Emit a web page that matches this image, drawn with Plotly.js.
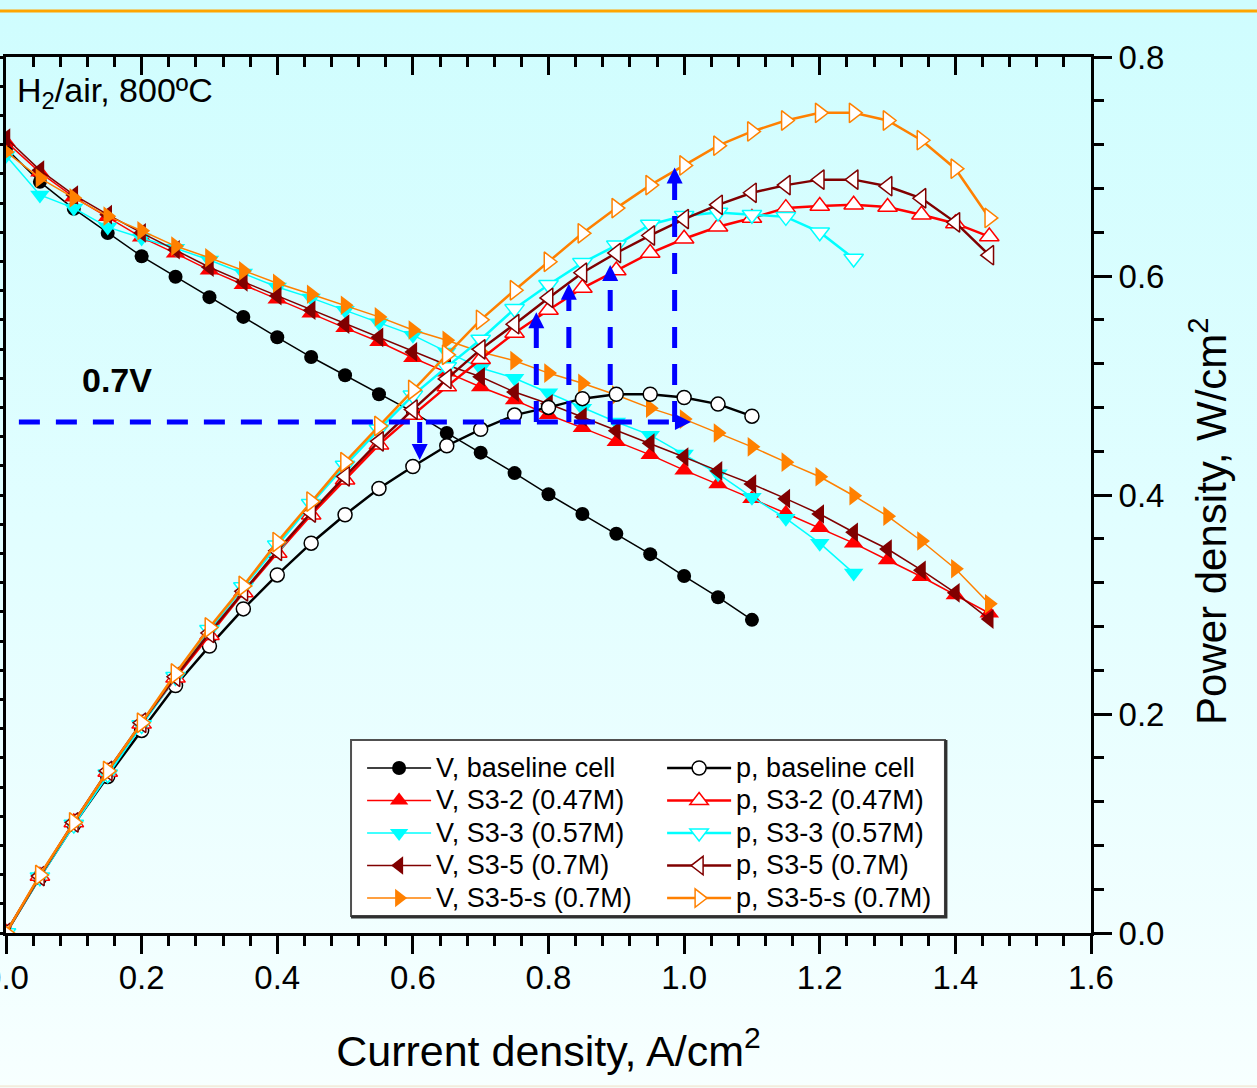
<!DOCTYPE html>
<html>
<head>
<meta charset="utf-8">
<script src="https://cdn.plot.ly/plotly-3.0.1.min.js"></script>
<style>
html,body{margin:0;padding:0;}
body{width:1257px;height:1088px;overflow:hidden;background:linear-gradient(to bottom,#cffdfe 0%,#e2feff 50%,#f7ffff 100%);}
#chart{width:1257px;height:1088px;}
</style>
</head>
<body>
<div id="chart"></div>
<script>
// ---- data (current density A/cm2, voltage V, power density W/cm2) ----
const I_base = [0,0.05,0.1,0.15,0.2,0.25,0.3,0.35,0.4,0.45,0.5,0.55,0.6,0.65,0.7,0.75,0.8,0.85,0.9,0.95,1.0,1.05,1.1];
const V_base = [1.075,1.029,0.992,0.959,0.927,0.899,0.871,0.844,0.816,0.789,0.764,0.738,0.714,0.685,0.658,0.630,0.601,0.574,0.547,0.519,0.489,0.460,0.429];
const P_base = [0,0.051,0.099,0.143,0.185,0.226,0.262,0.296,0.327,0.356,0.382,0.406,0.426,0.445,0.460,0.473,0.480,0.488,0.492,0.492,0.489,0.483,0.472];

const I_s32 = [0,0.05,0.1,0.15,0.2,0.25,0.3,0.35,0.4,0.45,0.5,0.55,0.6,0.65,0.7,0.75,0.8,0.85,0.9,0.95,1.0,1.05,1.1,1.15,1.2,1.25,1.3,1.35,1.4,1.45];
const V_s32 = [1.084,1.042,1.008,0.981,0.953,0.931,0.908,0.888,0.868,0.849,0.829,0.810,0.788,0.768,0.748,0.730,0.710,0.692,0.673,0.655,0.634,0.615,0.595,0.575,0.555,0.534,0.511,0.488,0.463,0.438];
const P_s32 = [0,0.052,0.101,0.147,0.191,0.233,0.272,0.311,0.347,0.382,0.414,0.446,0.473,0.499,0.524,0.548,0.569,0.589,0.605,0.621,0.634,0.645,0.653,0.662,0.664,0.665,0.663,0.656,0.648,0.636];

const I_s33 = [0,0.05,0.1,0.15,0.2,0.25,0.3,0.35,0.4,0.45,0.5,0.55,0.6,0.65,0.7,0.75,0.8,0.85,0.9,0.95,1.0,1.05,1.1,1.15,1.2,1.25];
const V_s33 = [1.065,1.011,0.993,0.967,0.952,0.938,0.922,0.904,0.885,0.870,0.853,0.836,0.819,0.796,0.774,0.760,0.740,0.719,0.700,0.682,0.656,0.629,0.597,0.568,0.534,0.493];
const P_s33 = [0,0.051,0.099,0.145,0.190,0.234,0.277,0.316,0.354,0.392,0.427,0.460,0.491,0.517,0.542,0.570,0.592,0.612,0.628,0.647,0.655,0.658,0.656,0.654,0.640,0.616];

const I_s35 = [0,0.05,0.1,0.15,0.2,0.25,0.3,0.35,0.4,0.45,0.5,0.55,0.6,0.65,0.7,0.75,0.8,0.85,0.9,0.95,1.0,1.05,1.1,1.15,1.2,1.25,1.3,1.35,1.4,1.45];
const V_s35 = [1.089,1.045,1.011,0.984,0.959,0.936,0.912,0.892,0.873,0.853,0.834,0.816,0.796,0.778,0.762,0.741,0.725,0.707,0.688,0.671,0.652,0.633,0.615,0.595,0.574,0.549,0.526,0.497,0.466,0.430];
const P_s35 = [0,0.052,0.101,0.148,0.192,0.234,0.274,0.312,0.349,0.384,0.417,0.449,0.478,0.506,0.533,0.556,0.580,0.603,0.621,0.637,0.652,0.665,0.676,0.683,0.688,0.688,0.682,0.671,0.649,0.619];

const I_s35s = [0,0.05,0.1,0.15,0.2,0.25,0.3,0.35,0.4,0.45,0.5,0.55,0.6,0.65,0.7,0.75,0.8,0.85,0.9,0.95,1.0,1.05,1.1,1.15,1.2,1.25,1.3,1.35,1.4,1.45];
const V_s35s = [1.070,1.034,1.007,0.982,0.962,0.941,0.925,0.907,0.890,0.875,0.860,0.844,0.826,0.812,0.796,0.784,0.767,0.753,0.737,0.719,0.704,0.685,0.666,0.645,0.625,0.599,0.571,0.537,0.499,0.451];
const P_s35s = [0,0.053,0.101,0.148,0.192,0.237,0.279,0.317,0.357,0.394,0.430,0.463,0.496,0.528,0.560,0.587,0.613,0.639,0.662,0.683,0.701,0.719,0.732,0.742,0.749,0.749,0.742,0.724,0.698,0.653];

// series labels
const vNames = ['V, baseline cell','V, S3-2 (0.47M)','V, S3-3 (0.57M)','V, S3-5 (0.7M)','V, S3-5-s (0.7M)'];
const pNames = ['p, baseline cell','p, S3-2 (0.47M)','p, S3-3 (0.57M)','p, S3-5 (0.7M)','p, S3-5-s (0.7M)'];

// 0.7 V guide arrows
const refV = 0.7;
const hLineStartI = 0.019;
const hArrowTipI = 1.01;
const downArrowI = 0.610;
const downArrowTipP = 0.432;
const upArrowI = [0.782, 0.830, 0.891, 0.986];
const upArrowTipP = [0.567, 0.593, 0.610, 0.699];

const xTickVals = [0,0.2,0.4,0.6,0.8,1.0,1.2,1.4,1.6];

// ---- styling helpers ----
const FONT = 'Liberation Sans, Arial, Helvetica, sans-serif';
const BLUE = '#0000ff';
const vRange = [0, 1.2], pRange = [0, 0.8];
const refP = refV * pRange[1] / vRange[1];
const legName = s => '<span style="font-size:27px">' + s + '</span>';

function vTrace(name, x, y, sym, color, ms) {
  return {x, y, name: legName(name), type: 'scatter', mode: 'lines+markers', yaxis: 'y', legend: 'legend',
    line: {color, width: 1.5}, marker: {symbol: sym, size: ms, color, line: {width: 0}}};
}
function pTrace(name, x, y, sym, color, ms) {
  return {x, y, name: legName(name), type: 'scatter', mode: 'lines+markers', yaxis: 'y2', legend: 'legend2',
    line: {color, width: 2.5}, marker: {symbol: sym, size: ms, color: '#ffffff', line: {color, width: 1.5}}};
}

const traces = [
  vTrace(vNames[0], I_base, V_base, 'circle', '#000000', 14),
  vTrace(vNames[1], I_s32, V_s32, 'triangle-up', '#ff0000', 17),
  vTrace(vNames[2], I_s33, V_s33, 'triangle-down', '#00ffff', 17),
  vTrace(vNames[3], I_s35, V_s35, 'triangle-left', '#800000', 17),
  vTrace(vNames[4], I_s35s, V_s35s, 'triangle-right', '#ff8000', 17),
  pTrace(pNames[0], I_base, P_base, 'circle', '#000000', 14),
  pTrace(pNames[1], I_s32, P_s32, 'triangle-up', '#ff0000', 17),
  pTrace(pNames[2], I_s33, P_s33, 'triangle-down', '#00ffff', 17),
  pTrace(pNames[3], I_s35, P_s35, 'triangle-left', '#800000', 17),
  pTrace(pNames[4], I_s35s, P_s35s, 'triangle-right', '#ff8000', 17),
  // arrow heads
  {x: [downArrowI].concat(upArrowI, [hArrowTipI]),
   y: [downArrowTipP].concat(upArrowTipP, [refP]),
   yaxis: 'y2', type: 'scatter', mode: 'markers', showlegend: false, hoverinfo: 'skip',
   marker: {symbol: ['arrow-down'].concat(upArrowI.map(() => 'arrow-up'), ['arrow-right']),
            size: 16, color: BLUE, line: {width: 0}}},
  // dummy for top axis
  {x: [], y: [], xaxis: 'x2', yaxis: 'y', showlegend: false, hoverinfo: 'skip', type: 'scatter'}
];

const dash = '21px,16px';
const shapes = [
  {type: 'line', xref: 'x', yref: 'y', x0: hLineStartI, x1: hArrowTipI - 0.01, y0: refV, y1: refV,
   line: {color: BLUE, width: 5, dash}},
  {type: 'line', xref: 'x', yref: 'y2', x0: downArrowI, x1: downArrowI, y0: refP, y1: downArrowTipP + 0.01,
   line: {color: BLUE, width: 5, dash}}
];
upArrowI.forEach((xi, k) => {
  shapes.push({type: 'line', xref: 'x', yref: 'y2', x0: xi, x1: xi, y0: refP, y1: upArrowTipP[k] - 0.01,
    line: {color: BLUE, width: 5, dash}});
});
// legend box
shapes.push({type: 'rect', xref: 'paper', yref: 'paper', x0: 0.318, x1: 0.8654, y0: 0.0194, y1: 0.2203,
  fillcolor: '#ffffff', line: {color: '#505050', width: 2}, layer: 'above'});
shapes.push({type: 'path', xref: 'paper', yref: 'paper', path: 'M0.318,0.0183 L0.8663,0.0183 L0.8663,0.2203',
  line: {color: '#303030', width: 3}, layer: 'above'});
// orange top rule and faint bottom rule
shapes.push({type: 'line', xref: 'paper', yref: 'paper', x0: -0.01, x1: 1.16, y0: 1.0525, y1: 1.0525,
  line: {color: '#ffa500', width: 3}});
shapes.push({type: 'line', xref: 'paper', yref: 'paper', x0: -0.01, x1: 1.16, y0: -0.175, y1: -0.175,
  line: {color: '#f3ecdd', width: 2}});

const axisCommon = {showgrid: false, zeroline: false, showline: true, linecolor: '#000000', linewidth: 3,
  tickcolor: '#000000', tickwidth: 3, ticklen: 18, tickfont: {family: FONT, size: 33, color: '#000000'},
  ticklabeloverflow: 'allow'};

const legendCommon = {xanchor: 'left', yanchor: 'top', bgcolor: 'rgba(0,0,0,0)', borderwidth: 0,
  font: {family: FONT, size: 22.7, color: '#000000'}, orientation: 'v', itemwidth: 64, tracegroupgap: 0};

const layout = {
  width: 1257, height: 1088, autosize: false,
  margin: {l: 6, r: 166, t: 57, b: 155, pad: 0},
  paper_bgcolor: 'rgba(0,0,0,0)', plot_bgcolor: 'rgba(0,0,0,0)',
  font: {family: FONT, color: '#000000'},
  showlegend: true,
  xaxis: Object.assign({}, axisCommon, {range: [0, 1.6], tickvals: xTickVals, tickformat: '.1f', ticks: 'outside',
    ticklabelstandoff: -5,
    minor: {dtick: 0.04, tick0: 0, ticks: 'outside', ticklen: 10, tickwidth: 3, tickcolor: '#000000', showgrid: false},
    title: {text: 'Current density, A/cm<sup>2</sup>', font: {family: FONT, size: 43, color: '#000000'}, standoff: 42}}),
  xaxis2: Object.assign({}, axisCommon, {overlaying: 'x', side: 'top', anchor: 'y', range: [0, 1.6], tickvals: xTickVals,
    ticks: 'inside', showticklabels: false,
    minor: {dtick: 0.04, tick0: 0, ticks: 'inside', ticklen: 10, tickwidth: 3, tickcolor: '#000000', showgrid: false}}),
  yaxis: Object.assign({}, axisCommon, {range: vRange, dtick: 0.2, ticks: 'outside', showticklabels: false, side: 'left',
    minor: {dtick: 0.04, tick0: 0, ticks: 'outside', ticklen: 10, tickwidth: 3, tickcolor: '#000000', showgrid: false}}),
  yaxis2: Object.assign({}, axisCommon, {range: pRange, dtick: 0.2, tickformat: '.1f', ticks: 'outside', side: 'right',
    overlaying: 'y', anchor: 'x',
    minor: {dtick: 0.04, tick0: 0, ticks: 'outside', ticklen: 10, tickwidth: 3, tickcolor: '#000000', showgrid: false}}),
  legend: Object.assign({}, legendCommon, {x: 0.3282, y: 0.2126}),
  legend2: Object.assign({}, legendCommon, {x: 0.6047, y: 0.2126}),
  shapes: shapes,
  annotations: [
    {xref: 'paper', yref: 'paper', x: 0.0083, y: 0.96, xanchor: 'left', yanchor: 'middle', showarrow: false,
     text: 'H<sub>2</sub>/air, 800ºC', font: {family: FONT, size: 34, color: '#000000'}},
    {xref: 'paper', yref: 'paper', x: 0.1023, y: 0.631, xanchor: 'center', yanchor: 'middle', showarrow: false,
     text: '<b>0.7V</b>', font: {family: FONT, size: 34, color: '#000000'}},
    // right axis title
    {xref: 'paper', yref: 'paper', x: 1.1078, y: 0.4703, xanchor: 'center', yanchor: 'middle', showarrow: false,
     textangle: -90, text: 'Power density, W/cm<sup>2</sup>', font: {family: FONT, size: 42, color: '#000000'}}
  ]
};

Plotly.newPlot('chart', traces, layout, {staticPlot: true, displayModeBar: false});
</script>
</body>
</html>
